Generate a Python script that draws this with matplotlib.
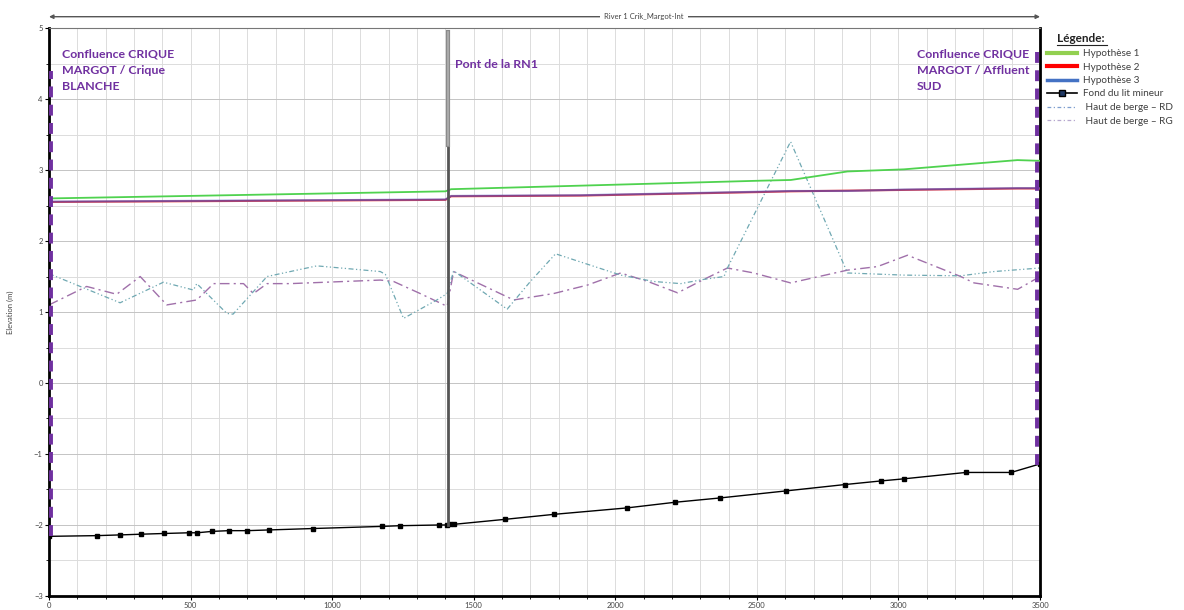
import matplotlib
matplotlib.use('Agg')
import matplotlib.pyplot as plt
from matplotlib.lines import Line2D
import numpy as np

plt.rcParams['font.family'] = ['Lato', 'DejaVu Sans']

# water lines (hypotheses)
hyp_x = [0, 1400, 1420, 1877, 2513, 2620, 2820, 3020, 3420, 3500]
hyp1 = [2.60, 2.70, 2.73, 2.78, 2.85, 2.86, 2.98, 3.01, 3.14, 3.13]
hyp2 = [2.55, 2.58, 2.63, 2.64, 2.69, 2.70, 2.71, 2.72, 2.74, 2.74]
hyp3 = [2.555, 2.585, 2.635, 2.645, 2.695, 2.705, 2.705, 2.725, 2.745, 2.745]

# bed
bed_x = [0, 169, 250, 324, 405, 493, 523, 577, 635, 700, 776, 932, 1176, 1241,
         1378, 1405, 1416, 1432, 1612, 1784, 2040, 2211, 2368, 2603, 2812, 2937,
         3019, 3238, 3398, 3500]
bed_y = [-2.16, -2.15, -2.14, -2.13, -2.12, -2.11, -2.11, -2.09, -2.08, -2.08,
         -2.07, -2.05, -2.02, -2.01, -2.00, -2.00, -1.99, -1.99, -1.92, -1.85,
         -1.76, -1.68, -1.62, -1.52, -1.43, -1.38, -1.35, -1.26, -1.26, -1.14]

# banks
rd_x = [0, 251, 404, 510, 522, 628, 650, 770, 852, 946, 1170, 1188, 1252, 1370,
        1406, 1429, 1618, 1700, 1789, 2019, 2136, 2231, 2313, 2384, 2396, 2619,
        2820, 3019, 3220, 3337, 3500]
rd_y = [1.54, 1.13, 1.42, 1.31, 1.40, 0.98, 0.97, 1.50, 1.57, 1.65, 1.57, 1.53,
        0.91, 1.17, 1.26, 1.58, 1.04, 1.43, 1.82, 1.52, 1.43, 1.40, 1.46, 1.50,
        1.62, 3.40, 1.55, 1.52, 1.51, 1.57, 1.62]
rg_x = [0, 133, 239, 322, 416, 522, 581, 687, 722, 770, 852, 1170, 1217, 1311,
        1406, 1429, 1641, 1782, 1902, 2019, 2115, 2220, 2313, 2396, 2489, 2619,
        2820, 2926, 3032, 3220, 3267, 3421, 3500]
rg_y = [1.10, 1.36, 1.25, 1.50, 1.10, 1.17, 1.40, 1.40, 1.26, 1.40, 1.40, 1.45,
        1.43, 1.26, 1.08, 1.57, 1.17, 1.26, 1.38, 1.55, 1.43, 1.27, 1.46, 1.62,
        1.55, 1.41, 1.59, 1.64, 1.80, 1.50, 1.41, 1.32, 1.50]

bridge_x = 1410
conf_left = [6, 4.40, -2.15]
conf_right = [3488, 4.69, -1.15]

purple = '#7030a0'

fig = plt.figure(figsize=(11.84, 6.10), dpi=100)
ax = fig.add_axes([0.0414, 0.023, 0.837, 0.931])

ax.set_xlim(0, 3500)
ax.set_ylim(-3, 5)

# grid
for gx in np.arange(100, 3500, 100):
    ax.axvline(gx, color='#dcdcdc', lw=0.7, zorder=0)
for gy in np.arange(-2.5, 5, 0.5):
    c = '#c4c4c4' if gy == int(gy) else '#dcdcdc'
    ax.axhline(gy, color=c, lw=0.7, zorder=0)

# bank lines
ax.plot(rg_x, rg_y, color='#a070aa', lw=1.0, dashes=(7, 3, 1.5, 3), zorder=2)
ax.plot(rd_x, rd_y, color='#6fa8b2', lw=0.9, dashes=(4, 2, 1, 2, 1, 2), zorder=2)

# hypotheses
ax.plot(hyp_x, hyp1, color='#4fd24f', lw=1.3, zorder=3)
ax.plot(hyp_x, hyp2, color='#f04848', lw=1.5, zorder=3)
ax.plot(hyp_x, hyp3, color='#3040c0', lw=1.5, alpha=0.55, zorder=3)

# bed
ax.plot(bed_x, bed_y, color='black', lw=1.0, marker='s', ms=3.0, zorder=4)

# bridge
ax.plot([bridge_x, bridge_x], [-2.0, 4.94], color='#555555', lw=2.0, zorder=5)
ax.plot([bridge_x, bridge_x], [3.35, 4.94], color='#8a8a8a', lw=3.0, zorder=5)
ax.plot([bridge_x, bridge_x], [3.35, 4.94], color='#b0b0b0', lw=1.2, zorder=5)

# confluence markers
for cx, ytop, ybot in (conf_left, conf_right):
    ax.plot([cx, cx], [ybot, ytop], color=purple, lw=2.8, dashes=(2.8, 1.9),
            zorder=6)

# annotations
ax.text(46, 4.71, 'Confluence CRIQUE\nMARGOT / Crique\nBLANCHE', color=purple,
        fontsize=8.9, fontweight='bold', va='top', ha='left', linespacing=1.6)
ax.text(1435, 4.57, 'Pont de la RN1', color=purple, fontsize=8.9,
        fontweight='bold', va='top', ha='left')
ax.text(3065, 4.71, 'Confluence CRIQUE\nMARGOT / Affluent\nSUD', color=purple,
        fontsize=8.9, fontweight='bold', va='top', ha='left', linespacing=1.6)

# axes styling
ax.set_xticks(np.arange(0, 3501, 500))
ax.set_xticks(np.arange(0, 3501, 100), minor=True)
ax.set_yticks(np.arange(-3, 6, 1))
ax.set_yticks(np.arange(-3, 5.01, 0.5), minor=True)
ax.tick_params(axis='both', labelsize=5.5, labelcolor='#444444', length=3,
               width=0.8, pad=1.5)
ax.tick_params(which='minor', length=2, width=0.6)
for s in ('left', 'bottom', 'right'):
    ax.spines[s].set_linewidth(2)
    ax.spines[s].set_color('black')
ax.spines['top'].set_linewidth(0.8)
ax.spines['top'].set_color('#777777')
ax.set_ylabel('Elevation (m)', fontsize=5.5, color='#444444', labelpad=14)

# river arrow above the plot
ax.annotate('', xy=(0, 1.02), xytext=(1, 1.02), xycoords='axes fraction',
            textcoords='axes fraction',
            arrowprops=dict(arrowstyle='<|-|>', color='#555555', lw=1.0,
                            mutation_scale=6, shrinkA=0, shrinkB=0))
ax.text(0.6, 1.02, 'River 1 Crik_Margot-Int', transform=ax.transAxes,
        fontsize=5.5, color='#444444', ha='center', va='center',
        bbox=dict(facecolor='white', edgecolor='none', pad=3))

# legend
fig.text(1057 / 1184, 1 - 38 / 610, 'Légende:', fontsize=8.5, fontweight='bold',
         color='#222222', ha='left', va='center')
fig.add_artist(Line2D([1057 / 1184, 1107 / 1184], [1 - 45 / 610, 1 - 45 / 610],
                      color='#222222', lw=0.8))
handles = [
    Line2D([], [], color='#92d050', lw=3),
    Line2D([], [], color='#ff0000', lw=3),
    Line2D([], [], color='#4472c4', lw=2.5),
    Line2D([], [], color='black', lw=1.2, marker='s', ms=4, mfc='#1f3864'),
    Line2D([], [], color='#7f9fcf', lw=0.9, dashes=(3, 2, 1, 2)),
    Line2D([], [], color='#b7a8cf', lw=0.9, dashes=(3, 2, 1, 2)),
]
labels = ['Hypothèse 1', 'Hypothèse 2', 'Hypothèse 3', 'Fond du lit mineur',
          ' Haut de berge – RD', ' Haut de berge – RG']
leg = fig.legend(handles, labels, loc='upper left',
                 bbox_to_anchor=(1043 / 1184, 1 - 45 / 610), frameon=False,
                 fontsize=7.2, handlelength=3.0, handletextpad=0.6,
                 labelspacing=0.45, borderaxespad=0)
for t in leg.get_texts():
    t.set_color('#404040')

fig.savefig('out.png', dpi=100)
